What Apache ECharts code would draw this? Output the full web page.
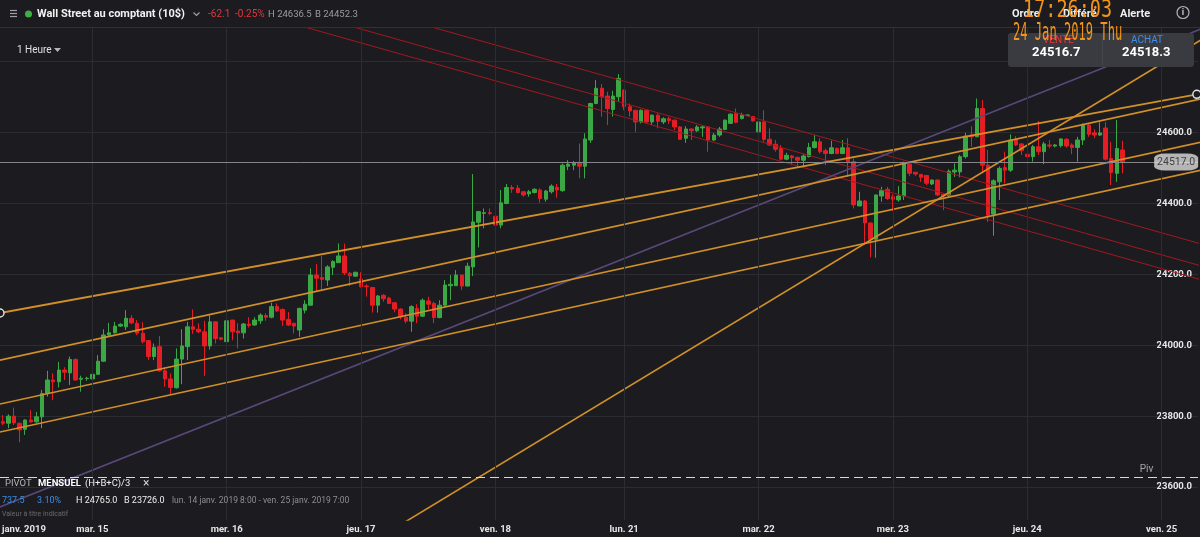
<!DOCTYPE html>
<html><head><meta charset="utf-8">
<script src="https://cdn.jsdelivr.net/npm/echarts@6/dist/echarts.min.js"></script>
<style>html,body{margin:0;padding:0;background:#1b1b20;}#c{width:1200px;height:537px;}</style>
</head><body><div id="c"></div>
<script>
// ---- data ----
const candles = [ // [open, close, low, high], hourly
[23784,23780,23775,23803],[23780,23800,23766,23805],[23800,23781,23775,23824],[23780,23761,23726,23782],
[23763,23789,23747,23791],[23789,23784,23781,23817],[23784,23798,23781,23812],[23798,23864,23766,23874],
[23864,23902,23855,23928],[23902,23897,23845,23921],[23897,23930,23881,23953],[23930,23924,23902,23938],
[23922,23960,23888,23968],[23960,23902,23900,23963],[23904,23907,23869,23914],[23906,23907,23900,23911],
[23905,23918,23902,23921],[23918,23955,23916,23972],[23955,24029,23953,24045],[24029,24035,24026,24063],
[24035,24054,24033,24066],[24054,24059,24052,24062],[24052,24076,24043,24099],[24076,24063,24060,24085],
[24062,24034,24029,24071],[24034,24010,24005,24065],[24013,23968,23958,24015],[23968,23994,23958,24005],
[23996,23928,23925,24026],[23928,23905,23883,23939],[23905,23881,23860,23921],[23880,23961,23878,23991],
[23961,23998,23890,24045],[23996,24052,23958,24066],[24052,24045,24032,24101],[24045,24038,24034,24062],
[24038,23998,23913,24069],[23998,24066,23988,24085],[24066,24019,24005,24068],[24021,24017,24014,24023],
[24010,24069,24008,24071],[24071,24038,24014,24072],[24040,24035,23991,24062],[24035,24060,24019,24063],
[24060,24056,24050,24079],[24057,24071,24055,24079],[24069,24085,24060,24090],[24084,24079,24069,24090],
[24079,24109,24076,24120],[24109,24097,24094,24118],[24101,24071,24054,24104],[24073,24057,24054,24094],
[24062,24054,24033,24063],[24043,24104,24024,24106],[24099,24116,24090,24127],[24113,24198,24112,24217],
[24198,24189,24151,24229],[24191,24186,24154,24252],[24184,24221,24167,24226],[24220,24236,24198,24240],
[24233,24252,24232,24287],[24252,24204,24198,24287],[24203,24196,24167,24207],[24195,24206,24193,24207],
[24187,24165,24163,24206],[24167,24165,24137,24172],[24163,24113,24092,24164],[24113,24139,24092,24142],
[24141,24131,24123,24144],[24133,24118,24116,24137],[24120,24102,24093,24121],[24102,24080,24073,24104],
[24079,24068,24062,24090],[24068,24109,24038,24113],[24104,24082,24062,24116],[24082,24127,24080,24132],
[24125,24116,24101,24137],[24118,24078,24062,24123],[24078,24113,24076,24127],[24113,24170,24109,24184],
[24168,24172,24127,24198],[24168,24198,24167,24212],[24198,24167,24156,24199],[24167,24223,24166,24233],
[24221,24348,24195,24483],[24347,24377,24276,24379],[24372,24374,24330,24386],[24374,24372,24367,24386],
[24364,24339,24327,24383],[24339,24402,24330,24438],[24400,24445,24398,24455],[24445,24441,24430,24452],
[24443,24431,24428,24452],[24433,24424,24419,24435],[24427,24433,24419,24438],[24431,24440,24428,24443],
[24438,24414,24402,24443],[24412,24435,24405,24438],[24433,24449,24428,24454],[24445,24438,24416,24455],
[24436,24508,24433,24513],[24505,24511,24494,24522],[24508,24515,24494,24520],[24515,24505,24471,24569],
[24505,24582,24471,24598],[24579,24682,24571,24684],[24682,24725,24680,24748],[24725,24701,24645,24737],
[24703,24668,24621,24715],[24665,24703,24645,24718],[24701,24753,24687,24765],[24720,24673,24663,24722],
[24673,24661,24645,24682],[24663,24630,24602,24664],[24630,24663,24626,24665],[24663,24630,24626,24665],
[24630,24649,24621,24651],[24649,24632,24612,24654],[24630,24639,24624,24643],[24639,24634,24624,24645],
[24635,24616,24607,24637],[24616,24581,24579,24618],[24584,24610,24571,24618],[24610,24605,24579,24612],
[24605,24616,24602,24621],[24613,24616,24588,24620],[24616,24579,24546,24618],[24579,24593,24576,24599],
[24593,24610,24588,24616],[24609,24635,24607,24637],[24626,24652,24624,24654],[24654,24629,24626,24668],
[24640,24649,24637,24656],[24649,24649,24647,24651],[24645,24633,24631,24647],[24602,24630,24598,24632],
[24630,24581,24574,24663],[24581,24565,24562,24612],[24567,24553,24546,24579],[24555,24525,24522,24565],
[24525,24536,24522,24543],[24534,24529,24508,24537],[24530,24522,24502,24532],[24522,24534,24505,24539],
[24532,24558,24530,24571],[24558,24574,24555,24593],[24574,24546,24541,24584],[24549,24541,24508,24555],
[24541,24557,24539,24577],[24555,24541,24539,24558],[24541,24557,24539,24579],[24557,24518,24475,24584],
[24518,24396,24386,24527],[24393,24407,24393,24433],[24407,24345,24283,24410],[24345,24299,24248,24346],
[24299,24424,24247,24425],[24421,24436,24405,24447],[24440,24414,24410,24447],[24419,24412,24379,24426],
[24410,24421,24405,24449],[24421,24513,24410,24518],[24511,24485,24477,24512],[24488,24483,24478,24489],
[24482,24474,24461,24483],[24479,24457,24452,24480],[24455,24466,24452,24468],[24466,24424,24421,24468],
[24426,24421,24381,24428],[24421,24491,24419,24496],[24489,24494,24475,24513],[24489,24532,24474,24537],
[24532,24590,24527,24599],[24593,24588,24560,24618],[24588,24668,24587,24696],[24668,24508,24489,24692],
[24508,24367,24348,24551],[24370,24464,24309,24468],[24461,24499,24410,24504],[24501,24494,24457,24546],
[24494,24579,24489,24595],[24581,24565,24562,24590],[24568,24549,24537,24570],[24539,24532,24513,24560],
[24532,24560,24518,24565],[24560,24546,24537,24633],[24546,24568,24511,24574],[24565,24562,24556,24579],
[24562,24565,24558,24568],[24563,24582,24558,24584],[24581,24562,24557,24584],[24565,24558,24539,24570],
[24558,24579,24518,24588],[24579,24621,24565,24626],[24621,24595,24588,24626],[24599,24593,24584,24609],
[24593,24599,24590,24629],[24613,24525,24521,24630],[24527,24487,24452,24574],[24485,24555,24461,24636],
[24551,24517,24485,24577]
];
const slotCount = 214;                       // hourly slots on the axis (incl. empty future)
const dayTicks  = [16, 40, 64, 88, 111, 135, 159, 183, 207];
const dayLabels = ['mar. 15','mer. 16','jeu. 17','ven. 18','lun. 21','mar. 22','mer. 23','jeu. 24','ven. 25'];
const yMin = 23507, yMax = 24895;
const lastPrice = 24517.0;
const pivotLevel = 23628;
// trend lines: [slot index, price]
const orangeA = [[-0.5, 24091], [213.3, 24708]];
const orangeB = [[-0.5, 23958], [214, 24695]];
const orangeC = [[-0.5, 23834], [214, 24573]];
const orangeD = [[-0.5, 23755], [214, 24494]];
const orangeSteep = [[60, 23388], [214, 24861]];
const purpleLine = [[-0.5, 23544], [214, 24892]];
const redTop = [[53, 25003], [214, 24286]];
const redMid = [[44, 24981], [214, 24224]];
const redLow = [[35, 24982], [214, 24185]];
const header = {title:'Wall Street au comptant (10$)', chg:'-62.1', pct:'-0.25%', hi:'H 24636.5', lo:'B 24452.3'};
const quote = {sell:'24516.7', buy:'24518.3', time:'17:26:03', date:'24 Jan 2019 Thu'};
const pivotInfo = {range:'737.5', pct:'3.10%', hi:'H 24765.0', lo:'B 23726.0', period:'lun. 14 janv. 2019 8:00 - ven. 25 janv. 2019 7:00'};

// ---- chart ----
const BG = '#1b1b20', GRID = '#2c2d32';
const UP = '#3aa845', DOWN = '#e41e24';
const ORANGE = '#d09027', PURPLE = '#584878', RED = '#a01a20';
const slots = Array.from({length: slotCount}, (_, i) => 's' + i);

const chart = echarts.init(document.getElementById('c'), null, {renderer: 'canvas', width: 1200, height: 537});

function T(x, y, text, fill, size, weight, extra) {
  return {type: 'text', z: 100, silent: true, style: Object.assign({
    x: x, y: y, text: text, fill: fill,
    font: (weight || 'normal') + ' ' + size + 'px Roboto',
    textAlign: 'left', textVerticalAlign: 'middle'}, extra || {})};
}
function trend(data, color, width, extra) {
  return Object.assign({type: 'line', xAxisIndex: 1, yAxisIndex: 0, data: data, showSymbol: false,
    symbol: 'none', silent: true, z: 4, clip: true,
    lineStyle: {color: color, width: width}}, extra || {});
}

const graphics = [
  {type: 'rect', z: 90, shape: {x: 0, y: 0, width: 1200, height: 27}, style: {fill: BG}},
  {type: 'line', z: 91, shape: {x1: 0, y1: 27.5, x2: 1200, y2: 27.5}, style: {stroke: '#303136', lineWidth: 1}},
  {type: 'line', z: 100, shape: {x1: 10, y1: 10.5, x2: 17, y2: 10.5}, style: {stroke: '#a0a0a6', lineWidth: 1.2}},
  {type: 'line', z: 100, shape: {x1: 10, y1: 13.5, x2: 17, y2: 13.5}, style: {stroke: '#a0a0a6', lineWidth: 1.2}},
  {type: 'line', z: 100, shape: {x1: 10, y1: 16.5, x2: 17, y2: 16.5}, style: {stroke: '#a0a0a6', lineWidth: 1.2}},
  {type: 'circle', z: 100, shape: {cx: 28.5, cy: 14, r: 3.5}, style: {fill: '#3cb043'}},
  T(37, 14.5, header.title, '#f2f2f2', 11, 'bold'),
  {type: 'polyline', z: 100, shape: {points: [[193.5, 12.5], [196.5, 15.5], [199.5, 12.5]]}, style: {stroke: '#a0a0a6', lineWidth: 1.2, fill: null}},
  T(208, 14.5, header.chg, '#e8353c', 10),
  T(235, 14.5, header.pct, '#e8353c', 10),
  T(268, 14.5, header.hi, '#9b9ba1', 9.5),
  T(315, 14.5, header.lo, '#9b9ba1', 9.5),
  T(17, 50, '1 Heure', '#e0e0e0', 10),
  {type: 'polygon', z: 100, shape: {points: [[54, 48], [61, 48], [57.5, 52]]}, style: {fill: '#b5b5b5'}},
  T(1012, 14.5, 'Ordre', '#f0f0f0', 11, 'bold'),
  T(1063, 14.5, 'Différé', '#f0f0f0', 11, 'bold'),
  T(1120, 14.5, 'Alerte', '#f0f0f0', 11, 'bold'),
  {type: 'circle', z: 100, shape: {cx: 1183, cy: 12.5, r: 6}, style: {fill: null, stroke: '#b5b5b5', lineWidth: 1.2}},
  T(1183, 13, 'i', '#c8c8c8', 9, 'bold', {textAlign: 'center'}),
  {type: 'rect', z: 95, shape: {x: 1008, y: 33, width: 186, height: 34, r: 3}, style: {fill: '#3a3b41'}},
  {type: 'line', z: 96, shape: {x1: 1102.5, y1: 35, x2: 1102.5, y2: 65}, style: {stroke: '#45464c', lineWidth: 1}},
  T(1043, 40.5, 'VENTE', '#e8353c', 10),
  T(1131, 40.5, 'ACHAT', '#3d8fe8', 10),
  T(1032, 53, quote.sell, '#ffffff', 13, 'bold'),
  T(1122, 53, quote.buy, '#ffffff', 13, 'bold'),
  {type: 'text', z: 110, x: 1023, y: 10.5, scaleY: 1.35, silent: true,
   style: {x: 0, y: 0, text: quote.time, fill: '#f2931b', font: '18.5px "DejaVu Sans Mono"', textVerticalAlign: 'middle'}},
  {type: 'text', z: 110, x: 1013, y: 33.5, scaleY: 2.0, silent: true,
   style: {x: 0, y: 0, text: quote.date, fill: '#f2931b', font: '12.1px "DejaVu Sans Mono"', textVerticalAlign: 'middle'}},
  T(5, 484, 'PIVOT', '#b4b4b8', 9.5),
  T(38, 484, 'MENSUEL', '#ffffff', 9.5, 'bold'),
  T(85, 484, '(H+B+C)/3', '#f0f0f0', 9.5),
  T(143, 484, '×', '#cfcfcf', 12),
  T(2, 501, pivotInfo.range, '#3d8fe8', 9),
  T(37, 501, pivotInfo.pct, '#3d8fe8', 9),
  T(76, 501, pivotInfo.hi, '#f0f0f0', 9),
  T(124, 501, pivotInfo.lo, '#f0f0f0', 9),
  T(172, 501, pivotInfo.period, '#8e8e94', 8.5),
  T(2, 514, 'Valeur à titre indicatif', '#6a6a70', 7),
  T(2, 529.5, 'janv. 2019', '#e6e6e6', 9.5, 'bold')
];

const option = {
  backgroundColor: BG,
  animation: false,
  grid: {left: 0, right: 2, top: 28, bottom: 17, containLabel: false},
  xAxis: [
    {type: 'category', data: slots, boundaryGap: true,
     axisLine: {show: false}, axisTick: {show: false}, splitLine: {show: false},
     axisLabel: {interval: (i) => dayTicks.indexOf(i) >= 0,
       formatter: (v, i) => { const k = dayTicks.indexOf(i); return k >= 0 ? dayLabels[k] : ''; },
       color: '#e6e6e6', fontSize: 9.5, fontWeight: 'bold', fontFamily: 'Roboto', margin: 5}},
    {type: 'value', min: -0.5, max: slotCount - 0.5, show: false}
  ],
  yAxis: {type: 'value', position: 'right', min: yMin, max: yMax, splitNumber: 7,
    axisLine: {show: false}, axisTick: {show: false},
    axisLabel: {inside: true, showMinLabel: false, showMaxLabel: false, formatter: v => v.toFixed(1),
      color: '#e6e6e6', fontSize: 9.5, fontWeight: 'bold', fontFamily: 'Roboto', margin: 6},
    splitLine: {showMinLine: false, showMaxLine: false, lineStyle: {color: GRID, width: 1}}},
  series: [
    {type: 'line', xAxisIndex: 1, data: [[0, lastPrice]], showSymbol: false, symbol: 'none',
     lineStyle: {opacity: 0}, silent: true, z: 1,
     markLine: {silent: true, symbol: 'none', animation: false, label: {show: false},
       data: dayTicks.map(d => ({xAxis: d, lineStyle: {color: GRID, width: 1, type: 'solid'}})).concat([
         {yAxis: lastPrice, lineStyle: {color: '#85858a', width: 1, type: 'solid'}},
         {yAxis: pivotLevel, lineStyle: {color: '#d8d8d8', width: 1.2, type: [9, 5]}}
       ])}},
    {type: 'candlestick', xAxisIndex: 0, yAxisIndex: 0, data: candles, barWidth: 4, z: 3, silent: true,
     itemStyle: {color: UP, color0: DOWN, borderColor: UP, borderColor0: DOWN, borderWidth: 1}},
    trend(redTop, RED, 1), trend(redMid, RED, 1), trend(redLow, RED, 1),
    trend(purpleLine, PURPLE, 1.6),
    trend(orangeB, ORANGE, 1.6), trend(orangeC, ORANGE, 1.6), trend(orangeD, ORANGE, 1.6),
    trend(orangeSteep, ORANGE, 1.6),
    trend(orangeA, ORANGE, 1.8, {showSymbol: true, symbol: 'circle', symbolSize: 8,
      itemStyle: {color: BG, borderColor: '#e0e0e0', borderWidth: 1.5}}),
    {type: 'scatter', xAxisIndex: 1, data: [[209.6, lastPrice]], symbol: 'roundRect', symbolSize: [44, 17], z: 6, silent: true,
     itemStyle: {color: '#dcdcdc'},
     label: {show: true, position: 'inside', formatter: () => lastPrice.toFixed(1), color: '#1e1e1e', fontSize: 10.5, fontFamily: 'Roboto'}},
    {type: 'scatter', xAxisIndex: 1, data: [[204.3, pivotLevel]], symbol: 'circle', symbolSize: 2, z: 6, silent: true,
     itemStyle: {color: 'rgba(0,0,0,0)'},
     label: {show: true, position: 'top', distance: 2, formatter: 'Piv', color: '#c8c8c8', fontSize: 10, fontFamily: 'Roboto'}}
  ],
  graphic: {elements: graphics}
};
chart.setOption(option);
</script>
</body></html>
